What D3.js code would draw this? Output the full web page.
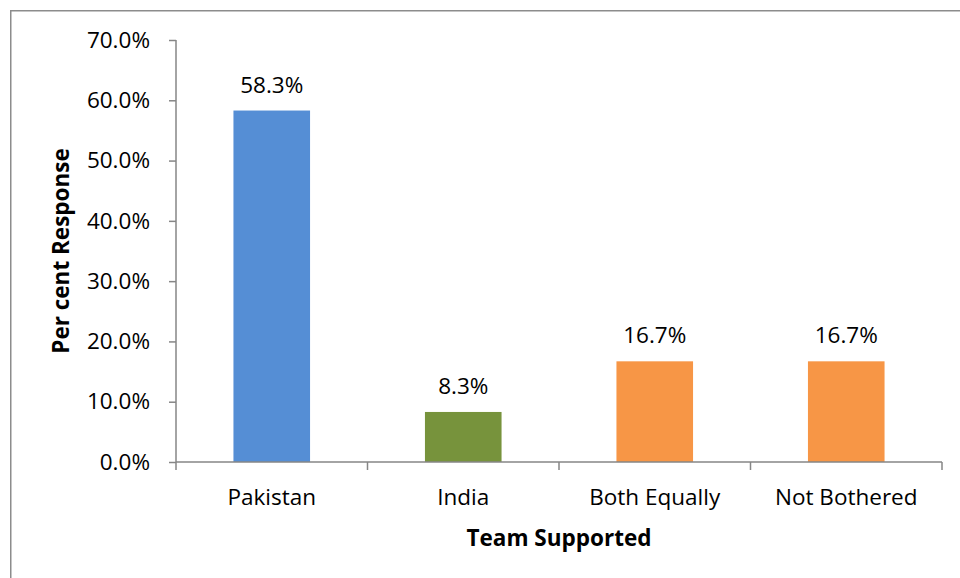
<!DOCTYPE html>
<html>
<head>
<meta charset="utf-8">
<script src="https://cdn.jsdelivr.net/npm/d3@7"></script>
<style>
  html, body { margin: 0; padding: 0; background: #fff; }
  svg { display: block; }
  text { font-family: "Open Sans", "Liberation Sans", sans-serif; fill: #000; }
</style>
</head>
<body>
<svg id="chart" width="960" height="578"></svg>
<script>
// Share of respondents by the team they support
const categories = ["Pakistan", "India", "Both Equally", "Not Bothered"];
const values = [58.3, 8.3, 16.7, 16.7];
const barColors = ["#558ed5", "#77933c", "#f79646", "#f79646"];
const yTicks = [0, 10, 20, 30, 40, 50, 60, 70];
const xTitle = "Team Supported";
const yTitle = "Per cent Response";

const svg = d3.select("#chart");
const plot = { left: 176, right: 942, top: 40, bottom: 462 };
const fontSize = 22.5;

// outer chart frame
svg.append("rect")
  .attr("x", 10.75).attr("y", 10.75)
  .attr("width", 1000).attr("height", 1000)
  .attr("fill", "none").attr("stroke", "#8c8c8c").attr("stroke-width", 1.5);

const x = d3.scaleBand()
  .domain(categories)
  .range([plot.left, plot.right])
  .paddingInner(0.6)
  .paddingOuter(0.3);

const y = d3.scaleLinear()
  .domain([0, 70])
  .range([plot.bottom, plot.top]);

// bars
svg.append("g").selectAll("rect")
  .data(categories)
  .join("rect")
  .attr("x", d => x(d))
  .attr("y", (d, i) => y(values[i]))
  .attr("width", x.bandwidth())
  .attr("height", (d, i) => y(0) - y(values[i]))
  .attr("fill", (d, i) => barColors[i]);

// value labels above bars
svg.append("g").selectAll("text")
  .data(categories)
  .join("text")
  .attr("x", d => x(d) + x.bandwidth() / 2)
  .attr("y", (d, i) => y(values[i]) - 18)
  .attr("text-anchor", "middle")
  .attr("font-size", fontSize)
  .text((d, i) => values[i].toFixed(1) + "%");

// y axis
const yAxis = svg.append("g")
  .attr("transform", `translate(${plot.left},0)`)
  .call(d3.axisLeft(y).tickValues(yTicks).tickSize(7).tickPadding(19)
    .tickFormat(d => d.toFixed(1) + "%"));
yAxis.select(".domain").attr("stroke", "#868686").attr("stroke-width", 1.5)
  .attr("d", `M0,${plot.top}V${plot.bottom}`);
yAxis.selectAll(".tick line").attr("stroke", "#868686").attr("stroke-width", 1.5);
yAxis.selectAll(".tick text").attr("font-size", fontSize)
  .attr("font-family", '"Open Sans", "Liberation Sans", sans-serif').attr("fill", "#000");

// x axis with category boundary ticks
const xAxis = svg.append("g")
  .attr("transform", `translate(0,${plot.bottom})`);
xAxis.append("line")
  .attr("x1", plot.left).attr("x2", plot.right)
  .attr("stroke", "#868686").attr("stroke-width", 1.5);
const step = x.step();
const bounds = d3.range(categories.length + 1).map(i => plot.left + i * step);
xAxis.selectAll("line.bound")
  .data(bounds)
  .join("line")
  .attr("class", "bound")
  .attr("x1", d => d).attr("x2", d => d)
  .attr("y1", 0).attr("y2", 8)
  .attr("stroke", "#868686").attr("stroke-width", 1.5);
xAxis.selectAll("text")
  .data(categories)
  .join("text")
  .attr("x", d => x(d) + x.bandwidth() / 2)
  .attr("y", 43)
  .attr("text-anchor", "middle")
  .attr("font-size", fontSize)
  .text(d => d);

// axis titles
svg.append("text")
  .attr("x", (plot.left + plot.right) / 2)
  .attr("y", 546)
  .attr("text-anchor", "middle")
  .attr("font-size", fontSize)
  .attr("font-weight", "bold")
  .text(xTitle);

svg.append("text")
  .attr("transform", "translate(69,251) rotate(-90)")
  .attr("text-anchor", "middle")
  .attr("font-size", fontSize)
  .attr("font-weight", "bold")
  .text(yTitle);
</script>
</body>
</html>
